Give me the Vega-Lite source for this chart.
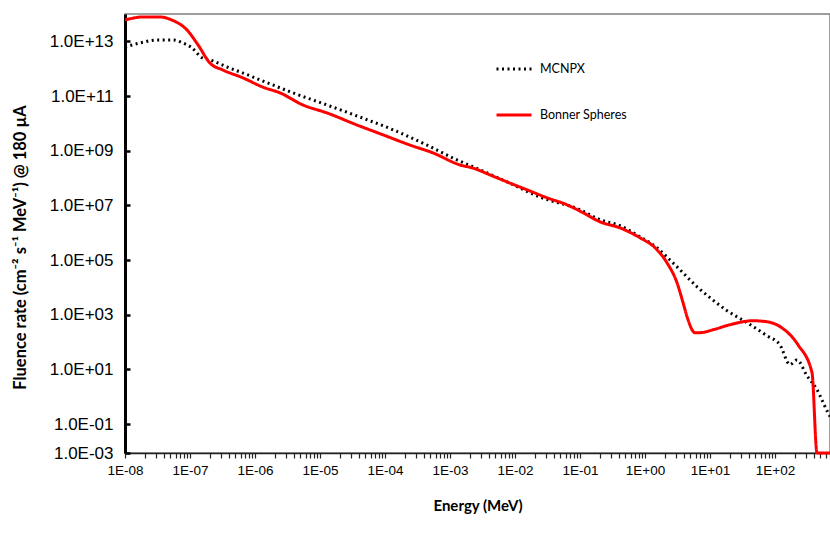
{
  "$schema": "https://vega.github.io/schema/vega-lite/v6.json",
  "width": 705,
  "height": 439,
  "autosize": {"type": "none"},
  "padding": {"left": 125, "top": 14, "right": 0, "bottom": 91},
  "background": "white",
  "config": {"view": {"stroke": "#7f7f7f", "strokeWidth": 1.5}},
  "data": {
    "values": [
      {"s": "MCNPX", "E": 1e-8, "F": 6.2e12},
      {"s": "MCNPX", "E": 1.7e-8, "F": 8.7e12},
      {"s": "MCNPX", "E": 3.1e-8, "F": 1.12e13},
      {"s": "MCNPX", "E": 5.47e-8, "F": 1.12e13},
      {"s": "MCNPX", "E": 7.8e-8, "F": 8.7e12},
      {"s": "MCNPX", "E": 1.07e-7, "F": 5.8e12},
      {"s": "MCNPX", "E": 1.53e-7, "F": 2.5e12},
      {"s": "MCNPX", "E": 2.03e-7, "F": 2.1e12},
      {"s": "MCNPX", "E": 3.71e-7, "F": 1.15e12},
      {"s": "MCNPX", "E": 6.53e-7, "F": 6.9e11},
      {"s": "MCNPX", "E": 1.19e-6, "F": 3.9e11},
      {"s": "MCNPX", "E": 3.85e-6, "F": 1.3e11},
      {"s": "MCNPX", "E": 1.28e-5, "F": 4.7e10},
      {"s": "MCNPX", "E": 4.12e-5, "F": 1.7e10},
      {"s": "MCNPX", "E": 1.33e-4, "F": 5.8e9},
      {"s": "MCNPX", "E": 4.43e-4, "F": 1.6e9},
      {"s": "MCNPX", "E": 1.28e-3, "F": 4.6e8},
      {"s": "MCNPX", "E": 2.26e-3, "F": 2.6e8},
      {"s": "MCNPX", "E": 7.53e-3, "F": 7.2e7},
      {"s": "MCNPX", "E": 0.0243, "F": 2.0e7},
      {"s": "MCNPX", "E": 0.1, "F": 6.9e6},
      {"s": "MCNPX", "E": 0.203, "F": 3.0e6},
      {"s": "MCNPX", "E": 0.412, "F": 1.8e6},
      {"s": "MCNPX", "E": 0.838, "F": 7.1e5},
      {"s": "MCNPX", "E": 1.53, "F": 2.8e5},
      {"s": "MCNPX", "E": 2.43, "F": 1.0e5},
      {"s": "MCNPX", "E": 3.85, "F": 3.4e4},
      {"s": "MCNPX", "E": 6.31, "F": 1.05e4},
      {"s": "MCNPX", "E": 10, "F": 4200},
      {"s": "MCNPX", "E": 18.3, "F": 1400},
      {"s": "MCNPX", "E": 37.1, "F": 510},
      {"s": "MCNPX", "E": 75.3, "F": 170},
      {"s": "MCNPX", "E": 119, "F": 79},
      {"s": "MCNPX", "E": 170, "F": 15},
      {"s": "MCNPX", "E": 218, "F": 22},
      {"s": "MCNPX", "E": 310, "F": 5.9},
      {"s": "MCNPX", "E": 443, "F": 1.8},
      {"s": "MCNPX", "E": 653, "F": 0.26},
      {"s": "MCNPX", "E": 702, "F": 0.19},
      {"s": "Bonner Spheres", "E": 1e-8, "F": 6.0e13},
      {"s": "Bonner Spheres", "E": 1.89e-8, "F": 7.8e13},
      {"s": "Bonner Spheres", "E": 3.45e-8, "F": 7.8e13},
      {"s": "Bonner Spheres", "E": 5.28e-8, "F": 6.0e13},
      {"s": "Bonner Spheres", "E": 8.99e-8, "F": 2.6e13},
      {"s": "Bonner Spheres", "E": 1.33e-7, "F": 7.4e12},
      {"s": "Bonner Spheres", "E": 2.03e-7, "F": 1.6e12},
      {"s": "Bonner Spheres", "E": 3.22e-7, "F": 8.9e11},
      {"s": "Bonner Spheres", "E": 6.53e-7, "F": 4.6e11},
      {"s": "Bonner Spheres", "E": 1.33e-6, "F": 2.1e11},
      {"s": "Bonner Spheres", "E": 2.43e-6, "F": 1.3e11},
      {"s": "Bonner Spheres", "E": 5.47e-6, "F": 4.7e10},
      {"s": "Bonner Spheres", "E": 1.28e-5, "F": 2.4e10},
      {"s": "Bonner Spheres", "E": 3.71e-5, "F": 8.7e9},
      {"s": "Bonner Spheres", "E": 9.31e-5, "F": 3.8e9},
      {"s": "Bonner Spheres", "E": 2.43e-4, "F": 1.6e9},
      {"s": "Bonner Spheres", "E": 5.47e-4, "F": 8.3e8},
      {"s": "Bonner Spheres", "E": 1.43e-3, "F": 3.0e8},
      {"s": "Bonner Spheres", "E": 2.26e-3, "F": 2.3e8},
      {"s": "Bonner Spheres", "E": 4.12e-3, "F": 1.3e8},
      {"s": "Bonner Spheres", "E": 7.53e-3, "F": 7.2e7},
      {"s": "Bonner Spheres", "E": 0.0153, "F": 3.7e7},
      {"s": "Bonner Spheres", "E": 0.031, "F": 1.9e7},
      {"s": "Bonner Spheres", "E": 0.0631, "F": 1.05e7},
      {"s": "Bonner Spheres", "E": 0.111, "F": 5.4e6},
      {"s": "Bonner Spheres", "E": 0.203, "F": 2.5e6},
      {"s": "Bonner Spheres", "E": 0.412, "F": 1.5e6},
      {"s": "Bonner Spheres", "E": 0.838, "F": 6.5e5},
      {"s": "Bonner Spheres", "E": 1.43, "F": 2.8e5},
      {"s": "Bonner Spheres", "E": 2.18, "F": 7.9e4},
      {"s": "Bonner Spheres", "E": 3.1, "F": 1.5e4},
      {"s": "Bonner Spheres", "E": 3.85, "F": 2750},
      {"s": "Bonner Spheres", "E": 4.43, "F": 850},
      {"s": "Bonner Spheres", "E": 5.87, "F": 220},
      {"s": "Bonner Spheres", "E": 7.01, "F": 220},
      {"s": "Bonner Spheres", "E": 11.1, "F": 280},
      {"s": "Bonner Spheres", "E": 20.3, "F": 430},
      {"s": "Bonner Spheres", "E": 45.9, "F": 600},
      {"s": "Bonner Spheres", "E": 75.3, "F": 550},
      {"s": "Bonner Spheres", "E": 128, "F": 330},
      {"s": "Bonner Spheres", "E": 226, "F": 79},
      {"s": "Bonner Spheres", "E": 371, "F": 7.6},
      {"s": "Bonner Spheres", "E": 443, "F": 0.0088},
      {"s": "Bonner Spheres", "E": 702, "F": 0.0088}
    ]
  },
  "mark": {"type": "line", "strokeWidth": 3, "strokeCap": "butt", "interpolate": "monotone"},
  "encoding": {
    "x": {
      "field": "E",
      "type": "quantitative",
      "scale": {"type": "log", "domain": [1e-8, 702], "nice": false},
      "axis": {
        "values": [1e-8,2e-8,3e-8,4e-8,5e-8,6e-8,7e-8,8e-8,9e-8,
                   1e-7,2e-7,3e-7,4e-7,5e-7,6e-7,7e-7,8e-7,9e-7,
                   1e-6,2e-6,3e-6,4e-6,5e-6,6e-6,7e-6,8e-6,9e-6,
                   1e-5,2e-5,3e-5,4e-5,5e-5,6e-5,7e-5,8e-5,9e-5,
                   1e-4,2e-4,3e-4,4e-4,5e-4,6e-4,7e-4,8e-4,9e-4,
                   0.001,0.002,0.003,0.004,0.005,0.006,0.007,0.008,0.009,
                   0.01,0.02,0.03,0.04,0.05,0.06,0.07,0.08,0.09,
                   0.1,0.2,0.3,0.4,0.5,0.6,0.7,0.8,0.9,
                   1,2,3,4,5,6,7,8,9,
                   10,20,30,40,50,60,70,80,90,
                   100,200,300,400,500,600,700],
        "labelExpr": "abs(log(datum.value)/LN10 - round(log(datum.value)/LN10)) > 0.001 ? '' : '1E' + (round(log(datum.value)/LN10) < 0 ? '-' : '+') + (abs(round(log(datum.value)/LN10)) < 10 ? '0' : '') + abs(round(log(datum.value)/LN10))",
        "labelOverlap": false,
        "labelFlush": false,
        "grid": false,
        "domainColor": "#222222",
        "domainWidth": 1.5,
        "tickColor": "#222222",
        "tickWidth": 1.2,
        "tickSize": 5,
        "labelFont": "Liberation Sans",
        "labelFontSize": 13.5,
        "labelColor": "#000000",
        "labelPadding": 5,
        "title": "Energy (MeV)",
        "titleFont": "Lato",
        "titleFontSize": 15,
        "titleFontWeight": "bold",
        "titleColor": "#000000",
        "titleBaseline": "middle",
        "titleY": 52
      }
    },
    "y": {
      "field": "F",
      "type": "quantitative",
      "scale": {"type": "log", "domain": [0.00871, 1e14], "nice": false},
      "axis": {
        "values": [0.00871, 0.1, 10, 1000, 100000, 1e7, 1e9, 1e11, 1e13],
        "labelExpr": "datum.value < 0.05 ? '1.0E-03' : '1.0E' + (round(log(datum.value)/LN10) < 0 ? '-' : '+') + (abs(round(log(datum.value)/LN10)) < 10 ? '0' : '') + abs(round(log(datum.value)/LN10))",
        "labelOverlap": false,
        "labelFlush": false,
        "grid": false,
        "domainColor": "#000000",
        "domainWidth": 3,
        "tickColor": "#000000",
        "tickWidth": 2.5,
        "tickSize": -5,
        "labelFont": "Liberation Sans",
        "labelFontSize": 17,
        "labelColor": "#000000",
        "labelPadding": 17,
        "title": "Fluence rate (cm⁻² s⁻¹ MeV⁻¹) @ 180 µA",
        "titleFont": "Lato",
        "titleFontSize": 16.5,
        "titleFontWeight": "bold",
        "titleColor": "#000000",
        "titleX": -105,
        "titleY": 233,
        "titleAngle": 270,
        "titleBaseline": "middle"
      }
    },
    "color": {
      "field": "s",
      "type": "nominal",
      "scale": {"domain": ["MCNPX", "Bonner Spheres"], "range": ["#000000", "#ff0000"]},
      "legend": {
        "orient": "none",
        "legendX": 370,
        "legendY": 36,
        "title": null,
        "padding": 0,
        "symbolType": "stroke",
        "symbolSize": 1225,
        "symbolStrokeWidth": 3,
        "labelFont": "Lato",
        "labelFontSize": 12.5,
        "labelColor": "#000000",
        "labelOffset": 7,
        "rowPadding": 20
      }
    },
    "strokeDash": {
      "field": "s",
      "type": "nominal",
      "scale": {"domain": ["MCNPX", "Bonner Spheres"], "range": [[2, 3.5], [1, 0]]}
    }
  }
}
